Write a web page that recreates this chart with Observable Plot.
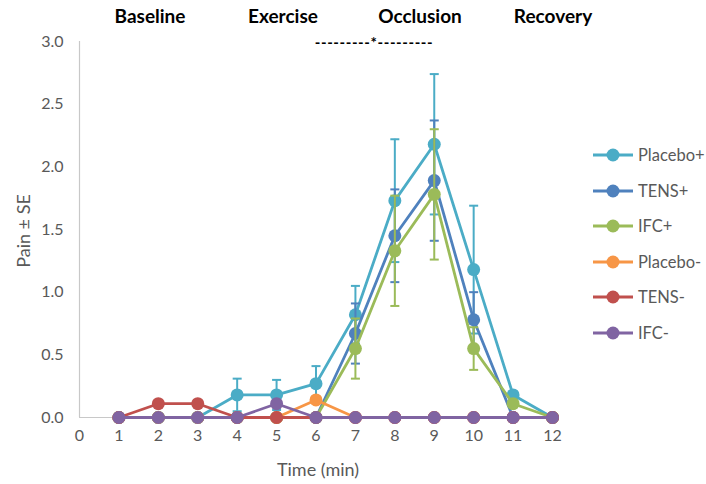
<!DOCTYPE html>
<html><head><meta charset="utf-8">
<script src="https://cdn.jsdelivr.net/npm/d3@7"></script>
<script src="https://cdn.jsdelivr.net/npm/@observablehq/plot@0.6"></script>
<style>
body{margin:0;background:#fff;font-family:Lato,"Open Sans",sans-serif;}
#wrap{position:relative;width:706px;height:484px;overflow:hidden;}
#wrap svg.plot{position:absolute;left:0;top:0;}
.phase{position:absolute;top:4px;font-weight:bold;font-size:19px;color:#000;transform:translateX(-50%);white-space:nowrap;}
.sig{position:absolute;top:33px;font-weight:bold;font-size:15px;color:#000;transform:translateX(-50%);white-space:nowrap;letter-spacing:0.6px;}
.leg{position:absolute;left:592px;height:20px;display:flex;align-items:center;font-size:16.5px;color:#595959;white-space:nowrap;}
.leg svg{margin-right:4px;}
.axlab{position:absolute;font-size:18px;color:#595959;white-space:nowrap;}
</style></head><body><div id="wrap"></div>
<script>
const time = [1,2,3,4,5,6,7,8,9,10,11,12];
const xTicks = [0,1,2,3,4,5,6,7,8,9,10,11,12];
const yTicks = [0,0.5,1,1.5,2,2.5,3];
const seriesNames = ["Placebo+","TENS+","IFC+","Placebo-","TENS-","IFC-"];
const seriesColors = ["#4BACC6","#4F81BD","#9BBB59","#F79646","#C0504D","#8064A2"];
const phaseLabels = ["Baseline","Exercise","Occlusion","Recovery"];
const sigLabel = "---------*---------";
const xLabel = "Time (min)";
const yLabel = "Pain ± SE";

const placeboPlus   = [0,0,0,0.18,0.18,0.27,0.82,1.73,2.18,1.18,0.18,0];
const placeboPlusSE = [0,0,0,0.13,0.12,0.14,0.23,0.49,0.56,0.51,0,0];
const tensPlus      = [0,0,0,0,0,0,0.67,1.45,1.89,0.78,0,0];
const tensPlusSE    = [0,0,0,0,0,0,0.24,0.37,0.48,0.22,0,0];
const ifcPlus       = [0,0,0,0,0,0,0.55,1.33,1.78,0.55,0.11,0];
const ifcPlusSE     = [0,0,0,0,0,0,0.24,0.44,0.52,0.17,0,0];
const placeboMinus  = [0,0,0,0,0,0.14,0,0,0,0,0,0];
const tensMinus     = [0,0.11,0.11,0,0,0,0,0,0,0,0,0];
const ifcMinus      = [0,0,0,0,0.11,0,0,0,0,0,0,0];
const zeroSE        = [0,0,0,0,0,0,0,0,0,0,0,0];

const values = [placeboPlus,tensPlus,ifcPlus,placeboMinus,tensMinus,ifcMinus];
const errors = [placeboPlusSE,tensPlusSE,ifcPlusSE,zeroSE,zeroSE,zeroSE];

const series = seriesNames.map((name,i)=>time.map((t,j)=>({
  series:name, t, v:values[i][j], se:errors[i][j],
  lo:values[i][j]-errors[i][j], hi:values[i][j]+errors[i][j]
})));

const cap = {draw(ctx){ ctx.moveTo(-4.5,0); ctx.lineTo(4.5,0); }};

const marks = [
  Plot.ruleY([0],{stroke:"#c8c8c8",strokeWidth:1.2}),
  Plot.ruleX([0],{y1:0,y2:3,stroke:"#c8c8c8",strokeWidth:1.2}),
  Plot.axisY({ticks:yTicks,tickFormat:d3.format(".1f"),tickSize:0,tickPadding:16,label:null}),
  Plot.axisX({ticks:xTicks,tickFormat:d3.format("d"),tickSize:0,tickPadding:12,label:null})
];
series.forEach((d,i)=>{
  const c = seriesColors[i];
  const e = d.filter(p=>p.se>0);
  marks.push(Plot.line(d,{x:"t",y:"v",stroke:c,strokeWidth:2.8}));
  marks.push(Plot.ruleX(e,{x:"t",y1:"lo",y2:"hi",stroke:c,strokeWidth:2}));
  marks.push(Plot.dot(e,{x:"t",y:"hi",symbol:cap,stroke:c,strokeWidth:2,r:4}));
  marks.push(Plot.dot(e,{x:"t",y:"lo",symbol:cap,stroke:c,strokeWidth:2,r:4}));
  marks.push(Plot.dot(d,{x:"t",y:"v",fill:c,r:6.5}));
});

const chart = Plot.plot({
  width:706, height:484,
  marginLeft:79, marginRight:154, marginTop:41, marginBottom:67,
  x:{domain:[0,12]},
  y:{domain:[0,3]},
  style:{fontFamily:"Lato, 'Open Sans', sans-serif",fontSize:"16px",color:"#595959",background:"#fff"},
  marks
});
const wrap = document.getElementById("wrap");
wrap.appendChild(chart);

const phaseX = [150,283,420,553];
phaseLabels.forEach((p,i)=>{
  const el=document.createElement("div"); el.className="phase"; el.textContent=p;
  el.style.left=phaseX[i]+"px"; wrap.appendChild(el);
});
const s=document.createElement("div"); s.className="sig"; s.textContent=sigLabel; s.style.left="374px"; wrap.appendChild(s);

const xl=document.createElement("div"); xl.className="axlab"; xl.textContent=xLabel;
xl.style.left="318px"; xl.style.top="458px"; xl.style.transform="translateX(-50%)"; wrap.appendChild(xl);
const yl=document.createElement("div"); yl.className="axlab"; yl.textContent=yLabel;
yl.style.left="23px"; yl.style.top="231px"; yl.style.transform="translate(-50%,-50%) rotate(-90deg)"; wrap.appendChild(yl);

seriesNames.forEach((n,i)=>{
  const el=document.createElement("div"); el.className="leg";
  el.style.top=(145+i*35.6)+"px";
  const c=seriesColors[i];
  el.innerHTML=`<svg width="42" height="14"><line x1="1" y1="7" x2="41" y2="7" stroke="${c}" stroke-width="2.8"/><circle cx="21" cy="7" r="6.5" fill="${c}"/></svg><span>${n}</span>`;
  wrap.appendChild(el);
});
</script></body></html>
